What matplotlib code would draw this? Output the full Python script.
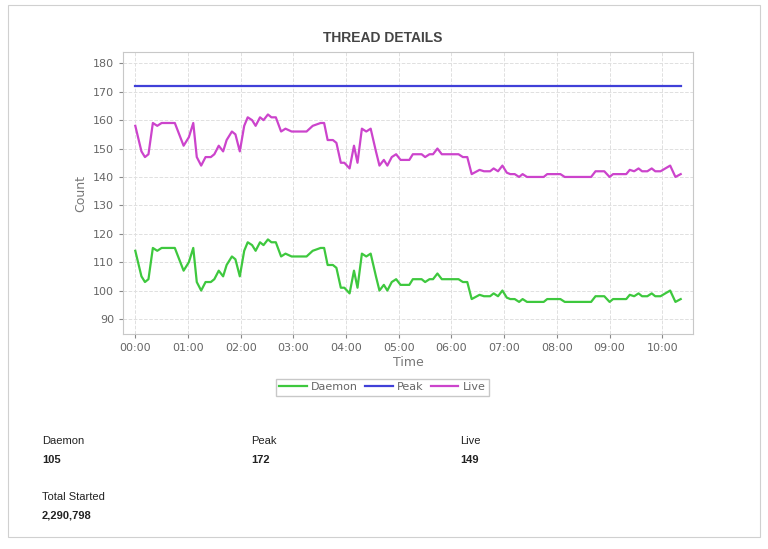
import matplotlib
matplotlib.use("Agg")
import matplotlib.pyplot as plt
from matplotlib.patches import Rectangle

# minutes since 00:00
minutes = [0, 7, 11, 15, 20, 25, 30, 45, 55, 61, 66, 70, 75, 80, 86, 90, 95, 100, 104, 110,
           114, 119, 124, 128, 133, 137, 142, 146, 151, 155, 160, 166, 171, 178, 195, 202, 211,
           215, 219, 225, 229, 234, 238, 244, 249, 253, 258, 263, 268, 274, 278, 283, 287, 292,
           297, 302, 308, 312, 316, 326, 330, 335, 339, 344, 349, 368, 373, 378, 383, 392, 397,
           404, 408, 413, 418, 423, 427, 432, 437, 441, 446, 465, 469, 484, 489, 519, 524, 534,
           540, 544, 559, 563, 568, 573, 577, 583, 588, 592, 598, 609, 615, 621]
daemon = [114, 105, 103, 104, 115, 114, 115, 115, 107, 110, 115, 103, 100, 103, 103, 104, 107, 105, 109, 112,
          111, 105, 114, 117, 116, 114, 117, 116, 118, 117, 117, 112, 113, 112, 112, 114, 115,
          115, 109, 109, 108, 101, 101, 99, 107, 101, 113, 112, 113, 105, 100, 102, 100, 103,
          104, 102, 102, 102, 104, 104, 103, 104, 104, 106, 104, 104, 103, 103, 97, 98.5, 98,
          98, 99, 98, 100, 97.5, 97, 97, 96, 97, 96, 96, 97, 97, 96, 96, 98, 98,
          96, 97, 97, 98.5, 98, 99, 98, 98, 99, 98, 98, 100, 96, 97]
live = [158, 149, 147, 148, 159, 158, 159, 159, 151, 154, 159, 147, 144, 147, 147, 148, 151, 149, 153, 156,
        155, 149, 158, 161, 160, 158, 161, 160, 162, 161, 161, 156, 157, 156, 156, 158, 159,
        159, 153, 153, 152, 145, 145, 143, 151, 145, 157, 156, 157, 149, 144, 146, 144, 147,
        148, 146, 146, 146, 148, 148, 147, 148, 148, 150, 148, 148, 147, 147, 141, 142.5, 142,
        142, 143, 142, 144, 141.5, 141, 141, 140, 141, 140, 140, 141, 141, 140, 140, 142, 142,
        140, 141, 141, 142.5, 142, 143, 142, 142, 143, 142, 142, 144, 140, 141]
peak = [172] * len(minutes)

tick_minutes = list(range(0, 601, 60))
tick_labels = ["%02d:00" % (m // 60) for m in tick_minutes]

fig = plt.figure(figsize=(7.68, 5.49), dpi=100)
fig.patches.append(Rectangle((8 / 768, 1 - 537 / 549), 752 / 768, 532 / 549, transform=fig.transFigure,
                             fill=False, edgecolor="#d0d0d0", linewidth=0.8))

ax = fig.add_axes([123 / 768, 1 - 334 / 549, 570 / 768, 282 / 549])
ax.set_facecolor("white")
ax.plot(minutes, daemon, color="#3ec83e", lw=1.6, label="Daemon")
ax.plot(minutes, peak, color="#4040d8", lw=1.6, label="Peak")
ax.plot(minutes, live, color="#cc44cc", lw=1.6, label="Live")

ax.set_xlim(-14, 635)
ax.set_ylim(84.7, 184)
ax.set_yticks(range(90, 181, 10))
ax.set_xticks(tick_minutes)
ax.set_xticklabels(tick_labels)
ax.grid(True, color="#e0e0e0", linestyle="--", linewidth=0.7)
for s in ax.spines.values():
    s.set_color("#c8c8c8")
ax.tick_params(colors="#888888", labelsize=8, length=3)
for lab in ax.get_xticklabels() + ax.get_yticklabels():
    lab.set_color("#666666")
ax.set_xlabel("Time", color="#777777", fontsize=9, labelpad=2)
ax.set_ylabel("Count", color="#777777", fontsize=9)

fig.text(383 / 768, 1 - 38 / 549, "THREAD DETAILS", ha="center", va="center",
         fontsize=10, fontweight="bold", color="#444444", family="Liberation Sans")

leg = ax.legend(loc="upper center", bbox_to_anchor=(0.455, -0.14), ncol=3, fontsize=8,
                frameon=True, fancybox=False, edgecolor="#bbbbbb", handlelength=2.5,
                columnspacing=0.6, handletextpad=0.4, borderpad=0.3)
for t in leg.get_texts():
    t.set_color("#666666")

stats = [(42, 441, "Daemon", "105"), (251, 441, "Peak", "172"), (460, 441, "Live", "149"),
         (42, 497, "Total Started", "2,290,798")]
for x, y, name, val in stats:
    fig.text(x / 768, 1 - y / 549, name, fontsize=8, color="#222222", va="center",
             family="Liberation Sans")
    fig.text(x / 768, 1 - (y + 19) / 549, val, fontsize=8, fontweight="bold", color="#222222",
             va="center", family="Liberation Sans")

fig.savefig("out.png", dpi=100)
